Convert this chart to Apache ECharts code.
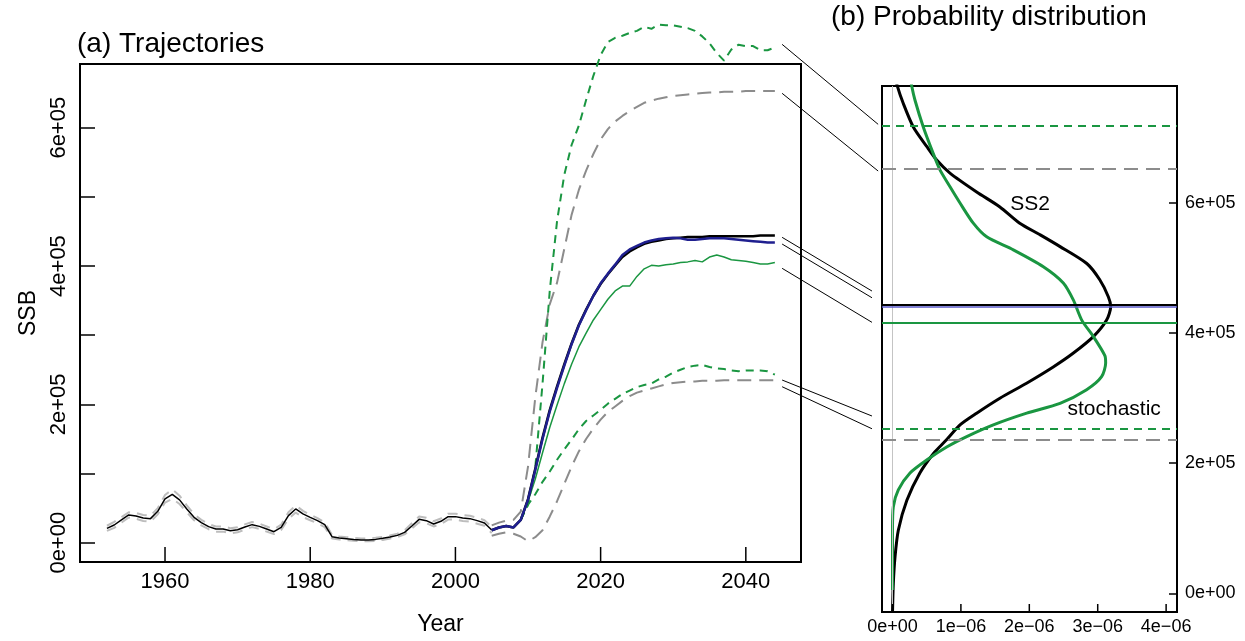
<!DOCTYPE html>
<html>
<head>
<meta charset="utf-8">
<script src="https://cdn.jsdelivr.net/npm/echarts@6/dist/echarts.min.js"></script>
<style>
  html, body { margin: 0; padding: 0; background: #fff; }
  #chart { width: 1245px; height: 641px; }
</style>
</head>
<body>
<div id="chart"></div>
<script>
const FONT = '"Liberation Sans", Arial, sans-serif';
const GREEN = '#1a9641';
const BLUE = '#1f1f8f';

// ---- (a) Trajectories : SSB in thousands ----
const histStart = 1952;
const histSSB = [20.7,25.6,32.9,40.1,38.6,35.7,34.8,45.4,63.3,70.0,61.9,48.8,36.7,29.0,23.2,19.8,19.8,17.4,18.8,22.7,
  26.1,23.6,19.8,15.9,22.2,39.1,48.8,41.6,36.7,31.9,26.1,8.7,6.8,5.8,4.8,3.9,3.9,4.8,6.3,8.2,
  10.6,15.0,24.1,33.8,31.9,27.1,30.9,37.7,37.7,35.7,34.8,31.9,28.5,18.4];
const histUpper = [24.5,30,37,44,43,40,39,50,69,77,68,54,41,33,27,23.5,23.5,21,22.5,26.5,
  30,27.5,23.5,19.5,26,44,54,46,40.5,35.5,29.5,11.5,9,8,7,6,6,7,8.5,10.5,
  13,18,28,38,36,31,35,42,42,40,39,36,32.5,23];
const histLower = [17,21.5,29,36.5,34.5,31.5,30.5,41,58,63.5,56,44,32.5,25,19.5,16,16,13.5,15,19,
  22.5,20,16,12.5,18.5,34.5,43.5,37,32.5,28,22.5,6,4.5,3.5,2.7,2,2,2.7,4,6,
  8.3,12,20.5,29.5,28,23.5,27,33.5,33.5,31.5,30.5,27.5,24.5,14];

const projStart = 2005;
const ss2SSB = [18,22,24,22,33,63,107,152,192,226,258,288,315,337,357,374,388,401,413,421,
  427,432,435,437,439,440,441,442,442,442,443,443,443,443,443,443,443,444,444,444];
const detSSB = [18,22,24,22,33,62,105,150,190,224,256,287,314,336,357,375,389,402,416,424,
  429,434,437,439,440,441,440,438,438,439,440,440,440,439,438,437,436,435,434,434];
const detUpper = [25,29,32,33,45,110,210,290,345,376,425,474,510,538,562,583,598,609,617,624,
  630,636,639,642,644,646,647,648,649,650,651,651,652,652,652,653,653,653,653,653];
const detLower = [10,13,15,13,9,2,8,18,38,60,85,110,132,150,165,178,189,197,205,212,
  217,220,223,226,229,231,232,233,233,234,234,234,235,235,235,235,235,235,235,235];

const stochStart = 2009;
const stochSSB = [33,60,92,130,167,199,230,258,283,303,322,337,352,364,371,371,385,396,401,400,
  402,403,405,406,408,406,413,416,413,409,408,407,405,403,403,405];
const stochUpper = [33,55,109,230,365,465,532,575,603,640,675,705,724,730,733,737,740,746,743,749,
  748,748,746,744,740,732,722,708,697,713,720,718,718,712,712,716];
const stochLower = [33,55,70,88,103,120,135,149,164,176,184,192,201,208,215,220,225,228,230,236,
  240,246,250,254,256,257,254,252,251,249,248,249,249,249,248,243];

// ---- (b) Probability distribution : density in 1e-06, level in thousands ----
const ss2Density = [0.03,0.07,0.158,0.304,0.5,0.646,0.84,1.23,1.57,1.86,2.16,2.45,2.84,3.03,3.155,3.19,
  3.13,2.94,2.64,2.35,1.96,1.57,1.23,0.987,0.79,0.6,0.4,0.21,0.085,0.037,0.012,0.0];
const ss2Level = [800,780,753,717,687,666,646,617,594,569,551,533,507,482,456,441,
  420,395,369,348,323,300,277,259,236,215,185,143,97,56,15,-30];
const stochDensity = [0.25,0.281,0.329,0.45,0.596,0.694,0.841,0.987,1.181,1.377,1.766,2.205,2.497,2.643,2.766,2.935,
  3.106,3.116,3.057,2.838,2.449,1.962,1.474,1.085,0.792,0.5,0.256,0.085,0.012,0,0];
const stochLevel = [800,780,758,717,676,651,625,600,569,548,528,502,477,451,420,395,
  365,354,333,313,292,277,259,241,225,205,185,159,133,97,5];

// reference levels drawn across panel (b)
const refLevels = [718.8, 652.3, 440.6, 444.3, 416.0, 253.7, 236.7];
const refKinds  = ['stochBand', 'detBand', 'det', 'ss2', 'stoch', 'stochBand', 'detBand'];

// connector lines from end of trajectories to panel (b)
const connYear = 2045;
const connLeft = [720.5, 649.7, 441.5, 431.8, 396.7, 235.2, 225.5];
const connRight = [721.0, 649.2, 464.7, 454.4, 416.6, 272.6, 253.0];
const connRightDensity = [-0.21, -0.21, -0.3, -0.3, -0.3, -0.3, -0.3];

// curve labels in panel (b)
const curveNames = ['SS2', 'stochastic'];
const curveLabelDensity = [2.01, 3.24];
const curveLabelLevel = [598.5, 282.9];

// axes
const yearMin = 1948.29, yearMax = 2047.6;
const ssbMin = -27.9, ssbMax = 692.1;
const densMin = -0.1535, densMax = 4.159;
const levelMin = -28.7, levelMax = 779.9;
const yearTicks = [1960, 1980, 2000, 2020, 2040];
const ssbTicks = [0, 200, 400, 600];
const ssbTickText = ['0e+00', '2e+05', '4e+05', '6e+05'];
const ssbMinorTicks = [0, 100, 200, 300, 400, 500, 600];
const densTicks = [0, 1, 2, 3, 4];
const densTickText = ['0e+00', '1e\u221206', '2e\u221206', '3e\u221206', '4e\u221206'];

function pairs(start, values) {
  return values.map((v, i) => [start + i, v]);
}
function zip(xs, ys) {
  return xs.map((x, i) => [x, ys[i]]);
}
function lookup(vals, texts) {
  return v => {
    const i = vals.findIndex(t => Math.abs(t - v) < 1e-9);
    return i >= 0 ? texts[i] : '';
  };
}

const levelStyle = {
  stochBand: { color: GREEN, width: 2, type: [8, 6] },
  detBand: { color: '#8c8c8c', width: 2, type: [14, 8] },
  det: { color: '#5a5ac8', width: 1.5, type: 'solid' },
  ss2: { color: '#000', width: 2.2, type: 'solid' },
  stoch: { color: GREEN, width: 2, type: 'solid' }
};

function trajectory(data, color, width, dash) {
  return {
    type: 'line', xAxisIndex: 0, yAxisIndex: 0, data,
    symbol: 'none', clip: false, silent: true,
    lineStyle: { color, width, type: dash || 'solid' }
  };
}

const boxLine = { show: true, onZero: false, lineStyle: { color: '#000', width: 2 } };

const chart = echarts.init(document.getElementById('chart'), null, { renderer: 'canvas' });

chart.setOption({
  animation: false,
  backgroundColor: '#fff',
  textStyle: { fontFamily: FONT },
  title: [
    { text: '(a) Trajectories', left: 77, top: 30, padding: 0,
      textStyle: { fontSize: 28, fontWeight: 'normal', color: '#000', fontFamily: FONT } },
    { text: '(b) Probability distribution', left: 831, top: 3, padding: 0,
      textStyle: { fontSize: 28, fontWeight: 'normal', color: '#000', fontFamily: FONT } },
    { text: 'Year', left: 440.5, textAlign: 'center', top: 613, padding: 0,
      textStyle: { fontSize: 23, fontWeight: 'normal', color: '#000', fontFamily: FONT } }
  ],
  grid: [
    { left: 80, top: 64, width: 721, height: 498, show: true, borderColor: '#000', borderWidth: 2, backgroundColor: 'transparent' },
    { left: 882, top: 86, width: 295, height: 526, show: true, borderColor: '#000', borderWidth: 2, backgroundColor: 'transparent' }
  ],
  xAxis: [
    {
      type: 'value', gridIndex: 0, min: yearMin, max: yearMax, position: 'bottom',
      splitLine: { show: false }, axisLine: boxLine,
      axisTick: { show: false },
      axisLabel: { customValues: yearTicks, formatter: v => String(v), fontSize: 22, color: '#000', margin: 9, fontFamily: FONT }
    },
    {
      type: 'value', gridIndex: 1, min: densMin, max: densMax, position: 'bottom',
      splitLine: { show: false }, axisLine: boxLine,
      axisTick: { show: false },
      axisLabel: { customValues: densTicks, formatter: lookup(densTicks, densTickText), fontSize: 18, color: '#000', margin: 6, fontFamily: FONT }
    }
  ],
  yAxis: [
    {
      type: 'value', gridIndex: 0, min: ssbMin, max: ssbMax, position: 'left',
      splitLine: { show: false }, axisLine: boxLine,
      axisTick: { show: true, inside: true, length: 15, customValues: ssbMinorTicks, lineStyle: { color: '#000', width: 1.5 } },
      axisLabel: { customValues: ssbTicks, formatter: lookup(ssbTicks, ssbTickText), rotate: 90, fontSize: 22, color: '#000', margin: 10, fontFamily: FONT },
      name: 'SSB', nameLocation: 'middle', nameGap: 40, nameRotate: 90,
      nameTextStyle: { fontSize: 23, color: '#000', fontFamily: FONT }
    },
    {
      type: 'value', gridIndex: 1, position: 'right', min: levelMin, max: levelMax,
      splitLine: { show: false }, axisLine: boxLine,
      axisTick: { show: true, inside: true, length: 8, customValues: ssbTicks, lineStyle: { color: '#000', width: 1.5 } },
      axisLabel: { customValues: ssbTicks, formatter: lookup(ssbTicks, ssbTickText), fontSize: 18, color: '#000', margin: 8, fontFamily: FONT }
    }
  ],
  series: [
    trajectory(pairs(histStart, histUpper), '#bdbdbd', 2, [10, 7]),
    trajectory(pairs(histStart, histLower), '#bdbdbd', 2, [10, 7]),
    trajectory(pairs(projStart, detUpper), '#8c8c8c', 2, [14, 8]),
    trajectory(pairs(projStart, detLower), '#8c8c8c', 2, [14, 8]),
    trajectory(pairs(stochStart, stochUpper), GREEN, 2, [8, 6]),
    trajectory(pairs(stochStart, stochLower), GREEN, 2, [8, 6]),
    trajectory(pairs(stochStart, stochSSB), GREEN, 1.5),
    trajectory(pairs(histStart, histSSB), '#000', 1.5),
    trajectory(pairs(projStart, ss2SSB), '#000', 2.5),
    trajectory(pairs(projStart, detSSB), BLUE, 2.5),
    {
      type: 'line', xAxisIndex: 1, yAxisIndex: 1, data: zip(ss2Density, ss2Level),
      symbol: 'none', silent: true, clip: true, z: 3, smooth: 0.25,
      lineStyle: { color: '#000', width: 3 },
      markLine: {
        silent: true, symbol: ['none', 'none'], label: { show: false }, animation: false,
        data: [{ xAxis: 0, lineStyle: { color: '#c4c4c4', width: 1, type: 'solid' } }]
          .concat(refLevels.map((lv, i) => ({ yAxis: lv, lineStyle: levelStyle[refKinds[i]] })))
      }
    },
    {
      type: 'line', xAxisIndex: 1, yAxisIndex: 1, data: zip(stochDensity, stochLevel),
      symbol: 'none', silent: true, clip: true, z: 3, smooth: 0.25,
      lineStyle: { color: GREEN, width: 3 }
    },
    {
      type: 'scatter', xAxisIndex: 1, yAxisIndex: 1, symbolSize: 0, silent: true, z: 5,
      itemStyle: { opacity: 1 },
      data: curveNames.map((n, i) => ({ name: n, value: [curveLabelDensity[i], curveLabelLevel[i]] })),
      label: { show: true, position: 'inside', formatter: '{b}', fontSize: 21, color: '#000',
        textBorderWidth: 0, opacity: 1, fontFamily: FONT }
    }
  ]
});

// bottom-edge ticks, placed from the axis scales
function tickMarks(gridIndex, values, yMin, length) {
  return values.map(v => {
    const p = chart.convertToPixel({ gridIndex }, [v, yMin]);
    return {
      type: 'line', silent: true, z: 100,
      shape: { x1: p[0], y1: p[1], x2: p[0], y2: p[1] - length },
      style: { stroke: '#000', lineWidth: 1.5 }
    };
  });
}

// connectors between the two panels
const connectors = connLeft.map((lv, i) => {
  const a = chart.convertToPixel({ gridIndex: 0 }, [connYear, lv]);
  const b = chart.convertToPixel({ gridIndex: 1 }, [connRightDensity[i], connRight[i]]);
  return {
    type: 'line', silent: true, z: 10,
    shape: { x1: a[0], y1: a[1], x2: b[0], y2: b[1] },
    style: { stroke: '#000', lineWidth: 1 }
  };
});
chart.setOption({
  graphic: connectors
    .concat(tickMarks(0, yearTicks, ssbMin, 15))
    .concat(tickMarks(1, densTicks, levelMin, 8))
});
</script>
</body>
</html>
